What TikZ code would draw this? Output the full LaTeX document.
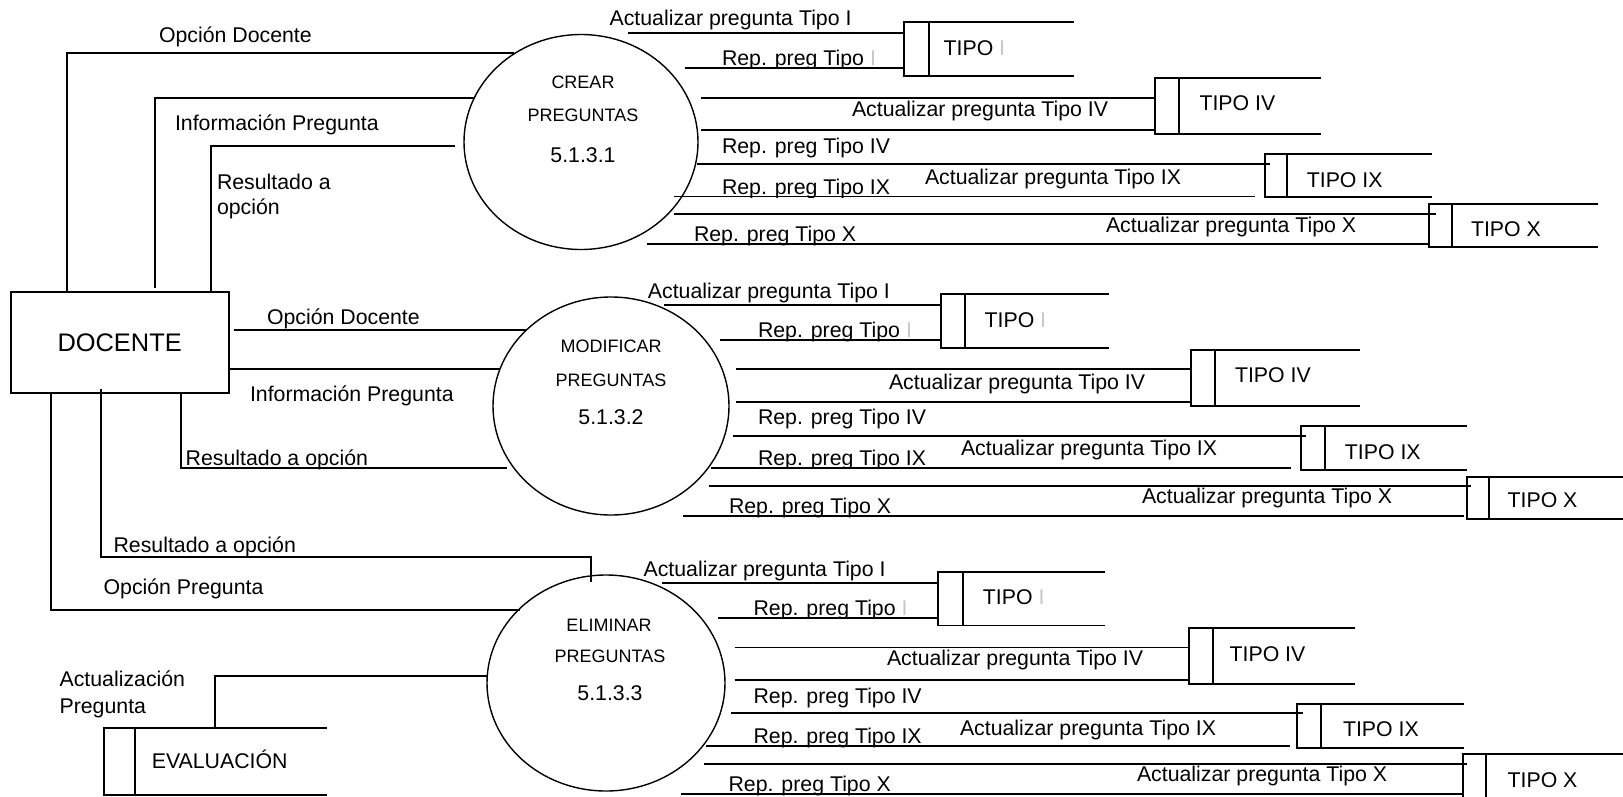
\documentclass[tikz,border=0pt]{standalone}
\usepackage{fontspec}
\setmainfont{Liberation Sans}
\usetikzlibrary{shapes.geometric,fit,calc}

\tikzset{
  flow/.style={line width=1.8pt},
  lbl/.style={inner sep=0pt, outer sep=0pt, anchor=base west, font=\fontsize{21.3}{25}\selectfont},
  proctxt/.style={inner sep=0pt, anchor=base, font=\fontsize{18}{21}\selectfont},
  procnum/.style={inner sep=0pt, anchor=base, font=\fontsize{21.3}{25}\selectfont},
  proc/.style={ellipse, draw, line width=1.4pt},
  entity/.style={rectangle, draw, line width=1.8pt, inner sep=0pt, font=\fontsize{25.4}{30}\selectfont},
}

% data store: name, left, top, right, bottom, offset of the inner bar
\newcommand{\dstore}[6]{%
  \coordinate (#1nw) at (#2,#3);
  \coordinate (#1se) at (#4,#5);
  \node[fit=(#1nw)(#1se), inner sep=0pt, outer sep=0pt] (#1) {};
  \draw[flow] (#1.north east) -- (#1.north west) -- (#1.south west) -- (#1.south east);
  \draw[flow] ([xshift=#6]#1.north west) -- ([xshift=#6]#1.south west);
}
% flow label whose lower part is cut by its text frame: name, x, baseline, cut, text
\newcommand{\cutlbl}[5]{%
  \begin{scope}
    \clip (#2-5,#4-40) rectangle (#2+420,#4);
    \node[lbl] (#1) at (#2,#3) {#5};
  \end{scope}
}
\newcommand{\faintI}{{\color{black!22}I}}

\begin{document}
\begin{tikzpicture}[x=1pt,y=-1pt]
\useasboundingbox (0,0) rectangle (1623,796);

% ---------- external entity and processes ----------
\node[entity, minimum width=217.9pt, minimum height=101pt] (docente) at (119.65,342.8) {DOCENTE};

\node[proc, minimum width=234pt, minimum height=215pt] (crear) at (581,142) {};
\node[proc, minimum width=236pt, minimum height=218pt] (modif) at (611,406) {};
\node[proc, minimum width=238pt, minimum height=216pt] (elim) at (606,683) {};

\node[proctxt] (crearA) at (583,88.4) {CREAR};
\node[proctxt] (crearB) at (583,121.4) {PREGUNTAS};
\node[procnum] (crearC) at (583,162.6) {5.1.3.1};
\node[proctxt] (modifA) at (611,352.5) {MODIFICAR};
\node[proctxt] (modifB) at (611,386.5) {PREGUNTAS};
\node[procnum] (modifC) at (611,424.6) {5.1.3.2};
\node[proctxt] (elimA) at (609,631) {ELIMINAR};
\node[proctxt] (elimB) at (610,662) {PREGUNTAS};
\node[procnum] (elimC) at (610,700.6) {5.1.3.3};

% ---------- data stores ----------
\dstore{evalst}{103.6}{727.7}{326.8}{795}{31.4}
\node[lbl] (evallbl) at (151.8,768) {EVALUACIÓN};

\dstore{s11}{904.3}{21.7}{1074}{76}{24.3}
\dstore{s12}{1154.8}{78.3}{1321.3}{133.7}{24.2}
\dstore{s13}{1264.6}{154}{1431.5}{197.3}{22.4}
\dstore{s14}{1429}{204}{1597.7}{247.3}{23}
\dstore{s21}{940.7}{294}{1109.4}{348.3}{24.3}
\dstore{s22}{1190.8}{350}{1359.8}{405.7}{24.2}
\dstore{s23}{1300.6}{425.7}{1467}{470}{24.2}
\dstore{s24}{1467}{476.7}{1630}{519.3}{22}
\dstore{s31}{938}{571.7}{1105}{625.5}{25}
\dstore{s32}{1189}{627.7}{1355.3}{684}{23.6}
\dstore{s33}{1297}{704}{1463.7}{748.3}{23.6}
\dstore{s34}{1462.6}{754.3}{1630}{812}{23.2}

\node[lbl] (t11) at (943.6,55.6) {TIPO \faintI};
\node[lbl] (t12) at (1199.5,110.6) {TIPO IV};
\node[lbl] (t13) at (1306.8,187.6) {TIPO IX};
\node[lbl] (t14) at (1471,236.6) {TIPO X};
\node[lbl] (t21) at (984.6,327) {TIPO \faintI};
\node[lbl] (t22) at (1235,382.6) {TIPO IV};
\node[lbl] (t23) at (1344.9,459.3) {TIPO IX};
\node[lbl] (t24) at (1507.6,507.6) {TIPO X};
\node[lbl] (t31) at (982.9,604.3) {TIPO \faintI};
\node[lbl] (t32) at (1229.6,661) {TIPO IV};
\node[lbl] (t33) at (1343,736.6) {TIPO IX};
\node[lbl] (t34) at (1507.6,787) {TIPO X};

% ---------- flows between DOCENTE and the processes ----------
\coordinate (oA) at (66.8,53.3);   \coordinate (oAe) at (514,53.3);
\draw[flow] (docente.north -| oA) -- (oA) -- (oAe);
\coordinate (iBs) at (154.6,288);  \coordinate (iB) at (154.6,97.7); \coordinate (iBe) at (475,97.7);
\draw[flow] (iBs) -- (iB) -- (iBe);
\coordinate (rC) at (210.7,145.7); \coordinate (rCe) at (455,145.7);
\draw[flow] (docente.north -| rC) -- (rC) -- (rCe);

\coordinate (oD) at (234,330);     \coordinate (oDe) at (527,330);
\draw[flow] (oD) -- (oDe);
\coordinate (iEe) at (500,369.3);
\draw[flow] (docente.east |- iEe) -- (iEe);
\coordinate (rF) at (181,467.7);   \coordinate (rFe) at (507,467.7);
\draw[flow] (docente.south -| rF) -- (rF) -- (rFe);

\coordinate (rGs) at (101,389.3);  \coordinate (rG) at (101,557.3);
\coordinate (rGc) at (591,557.3);  \coordinate (rGe) at (591,581.7);
\draw[flow] (rGs) -- (rG) -- (rGc) -- (rGe);
\coordinate (oH) at (51,610);      \coordinate (oHe) at (519.6,610);
\draw[flow] (docente.south -| oH) -- (oH) -- (oHe);
\coordinate (aI) at (215,676);     \coordinate (aIe) at (487.5,676);
\draw[flow] (evalst.north -| aI) -- (aI) -- (aIe);

\node[lbl] (l01) at (159,42) {Opción Docente};
\node[lbl] (l02) at (175,130) {Información Pregunta};
\node[lbl] (l03) at (217,189) {Resultado a};
\node[lbl] (l04) at (217,214) {opción};
\node[lbl] (l05) at (267,324) {Opción Docente};
\node[lbl] (l06) at (250,401.5) {Información Pregunta};
\cutlbl{l07}{185.7}{465.5}{469}{Resultado a opción}
\node[lbl] (l08) at (113.6,552) {Resultado a opción};
\node[lbl] (l09) at (103.6,594) {Opción Pregunta};
\node[lbl] (l10) at (59.6,686.5) {Actualización};
\node[lbl] (l11) at (59.6,713) {Pregunta};

% ---------- CREAR PREGUNTAS and its stores ----------
\coordinate (c1a) at (627.5,33.3);  \draw[flow] (c1a) -- (c1a -| s11.west);
\coordinate (c1r) at (684.6,67.7);  \draw[flow] (c1r) -- (c1r -| s11.west);
\coordinate (c2a) at (701,97.7);    \draw[flow] (c2a) -- (c2a -| s12.west);
\coordinate (c2b) at (701,130);     \draw[flow] (c2b) -- (c2b -| s12.west);
\coordinate (c3a) at (697,163.8);   \draw[flow] (c3a) -- (c3a -| s13.west) -- ++(5,0);
\coordinate (c3r) at (674,196.5);   \draw[flow] (c3r) -- ($(c3r -| s13.west)+(-9.6,0)$);
\coordinate (c4a) at (674,214);     \draw[flow] (c4a) -- (c4a -| s14.west) -- ++(6.6,0);
\coordinate (c4r) at (647,244);     \draw[flow] (c4r) -- (c4r -| s14.west);

\node[lbl] (c1al) at (609.6,25) {Actualizar pregunta Tipo I};
\cutlbl{c1rl}{722}{65.2}{68.7}{Rep. preg Tipo \faintI}
\node[lbl] (c2al) at (852,116) {Actualizar pregunta Tipo IV};
\node[lbl] (c2bl) at (722,153.5) {Rep. preg Tipo IV};
\node[lbl] (c3al) at (925,184.5) {Actualizar pregunta Tipo IX};
\cutlbl{c3rl}{722}{194}{197.5}{Rep. preg Tipo IX}
\node[lbl] (c4al) at (1106,232) {Actualizar pregunta Tipo X};
\cutlbl{c4rl}{694}{241.5}{245}{Rep. preg Tipo X}

% ---------- MODIFICAR PREGUNTAS and its stores ----------
\coordinate (m1a) at (664,305);     \draw[flow] (m1a) -- (m1a -| s21.west);
\coordinate (m1r) at (720,340);     \draw[flow] (m1r) -- (m1r -| s21.west);
\coordinate (m2a) at (736.4,369.3); \draw[flow] (m2a) -- (m2a -| s22.west);
\coordinate (m2b) at (736.4,401.7); \draw[flow] (m2b) -- (m2b -| s22.west);
\coordinate (m3a) at (732.9,435.7); \draw[flow] (m3a) -- (m3a -| s23.west) -- ++(5.2,0);
\coordinate (m3r) at (711.4,467.7); \draw[flow] (m3r) -- ($(m3r -| s23.west)+(-9.6,0)$);
\coordinate (m4a) at (708.6,486);   \draw[flow] (m4a) -- (m4a -| s24.west) -- ++(4,0);
\coordinate (m4r) at (683,516);     \draw[flow] (m4r) -- ($(m4r -| s24.west)+(-3.3,0)$);

\node[lbl] (m1al) at (647.9,298) {Actualizar pregunta Tipo I};
\cutlbl{m1rl}{758}{337.5}{341}{Rep. preg Tipo \faintI}
\node[lbl] (m2al) at (889,389.5) {Actualizar pregunta Tipo IV};
\node[lbl] (m2bl) at (758,424.5) {Rep. preg Tipo IV};
\node[lbl] (m3al) at (961,455.5) {Actualizar pregunta Tipo IX};
\cutlbl{m3rl}{758}{465.2}{468.7}{Rep. preg Tipo IX}
\node[lbl] (m4al) at (1142,503) {Actualizar pregunta Tipo X};
\cutlbl{m4rl}{729}{513.5}{517}{Rep. preg Tipo X}

% ---------- ELIMINAR PREGUNTAS and its stores ----------
\coordinate (e1a) at (662,583.3);   \draw[flow] (e1a) -- (e1a -| s31.west);
\coordinate (e1r) at (717.9,617.7); \draw[flow] (e1r) -- (e1r -| s31.west);
\coordinate (e2a) at (734.6,647.5); \draw[flow] (e2a) -- (e2a -| s32.west);
\coordinate (e2b) at (734.6,680);   \draw[flow] (e2b) -- (e2b -| s32.west);
\coordinate (e3a) at (731,713.3);   \draw[flow] (e3a) -- (e3a -| s33.west) -- ++(6.3,0);
\coordinate (e3r) at (706,746);     \draw[flow] (e3r) -- ($(e3r -| s33.west)+(-7.5,0)$);
\coordinate (e4a) at (704.3,764);   \draw[flow] (e4a) -- (e4a -| s34.west) -- ++(4.4,0);
\coordinate (e4r) at (681,794);     \draw[flow] (e4r) -- (e4r -| s34.west);

\node[lbl] (e1al) at (643.6,576) {Actualizar pregunta Tipo I};
\cutlbl{e1rl}{753.6}{615.2}{618.7}{Rep. preg Tipo \faintI}
\node[lbl] (e2al) at (887,665.5) {Actualizar pregunta Tipo IV};
\node[lbl] (e2bl) at (753.6,703) {Rep. preg Tipo IV};
\node[lbl] (e3al) at (960,735) {Actualizar pregunta Tipo IX};
\cutlbl{e3rl}{753.6}{743.5}{747}{Rep. preg Tipo IX}
\node[lbl] (e4al) at (1137,781.5) {Actualizar pregunta Tipo X};
\cutlbl{e4rl}{728.6}{791.5}{795}{Rep. preg Tipo X}

\end{tikzpicture}
\end{document}
